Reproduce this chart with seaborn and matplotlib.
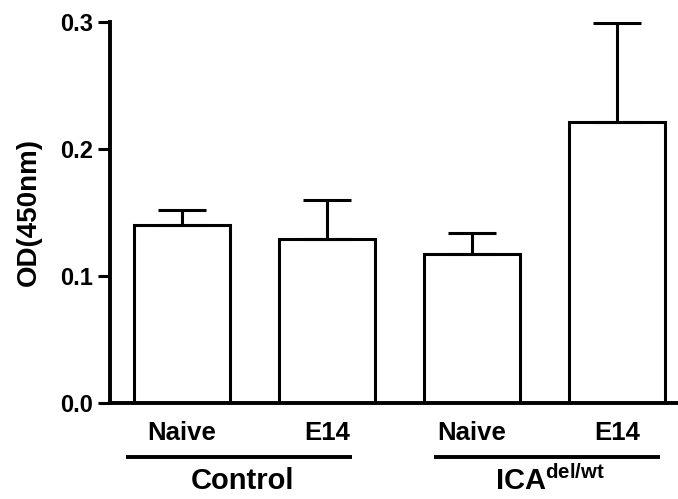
import numpy as np
import pandas as pd
import matplotlib
matplotlib.use("Agg")
import matplotlib.pyplot as plt
import matplotlib.transforms as mtransforms
import seaborn as sns

# Values
conditions = ["Control Naive", "Control E14", "ICA Naive", "ICA E14"]
tick_labels = ["Naive", "E14", "Naive", "E14"]
means = [0.140, 0.129, 0.117, 0.221]
errors = [0.012, 0.031, 0.017, 0.078]
groups = ["Control", "ICA$^{\\mathregular{del/wt}}$"]

sns.set_style("ticks")
plt.rcParams["font.family"] = ["Liberation Sans", "DejaVu Sans"]
plt.rcParams["font.weight"] = "bold"
plt.rcParams["text.color"] = "black"
plt.rcParams["axes.labelcolor"] = "black"
plt.rcParams["xtick.color"] = "black"
plt.rcParams["ytick.color"] = "black"
plt.rcParams["axes.edgecolor"] = "black"

df = pd.DataFrame({"cond": conditions, "od": means})

fig = plt.figure(figsize=(6.78, 4.99), dpi=100)
ax = fig.add_axes([0.1622, 0.1924, 0.85, 0.7636])

sns.barplot(data=df, x="cond", y="od", order=conditions, color="white",
            edgecolor="black", linewidth=2.2, width=0.66, errorbar=None, ax=ax)
x = np.arange(len(conditions))
ax.errorbar(x, means, yerr=[np.zeros(len(errors)), errors], fmt="none",
            ecolor="black", elinewidth=2.2, capsize=17, capthick=2.2,
            clip_on=False)

ax.set_ylim(0, 0.3)
ax.set_xlim(-0.497, 3.48)
ax.set_yticks([0.0, 0.1, 0.2, 0.3])
ax.set_yticklabels(["0.0", "0.1", "0.2", "0.3"])
ax.set_xticks(x)
ax.set_xticklabels(tick_labels)
ax.tick_params(axis="y", length=9, width=2.2, labelsize=17, pad=3,
               colors="black")
ax.tick_params(axis="x", length=0, labelsize=18.5, pad=13, colors="black")
for lab in ax.get_xticklabels() + ax.get_yticklabels():
    lab.set_fontweight("bold")

ax.set_xlabel("")
ax.set_ylabel("OD(450nm)", fontsize=20, fontweight="bold", color="black")
ax.yaxis.set_label_coords(-0.118, 0.5)

sns.despine(ax=ax)
ax.spines["left"].set_linewidth(2.8)
ax.spines["bottom"].set_linewidth(2.8)

# group underlines and labels
trans = mtransforms.blended_transform_factory(ax.transData, ax.transAxes)
spans = [(-0.385, 1.175), (1.74, 3.30)]
for (x0, x1), name in zip(spans, groups):
    ax.plot([x0, x1], [-0.142, -0.142], color="black", lw=2.8,
            transform=trans, clip_on=False, solid_capstyle="butt")
    ax.text((x0 + x1) / 2 + 0.02, -0.205, name, transform=trans,
            ha="center", va="center", fontsize=21, fontweight="bold")

fig.savefig("out.png", dpi=100, facecolor="white")
